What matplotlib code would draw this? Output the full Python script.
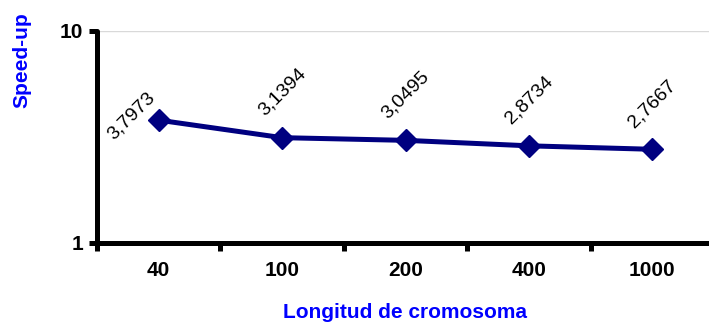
import matplotlib
matplotlib.use("Agg")
import matplotlib.pyplot as plt
from matplotlib.ticker import FixedLocator, NullLocator, FixedFormatter

categories = ["40", "100", "200", "400", "1000"]
speedup = [3.7973, 3.1394, 3.0495, 2.8734, 2.7667]
labels = ["3,7973", "3,1394", "3,0495", "2,8734", "2,7667"]
y_ticks = [1, 10]
y_ticklabels = ["1", "10"]

plt.rcParams['font.family'] = ['Liberation Sans', 'DejaVu Sans']

fig = plt.figure(figsize=(7.09, 3.24), dpi=100)
W, H = 709, 324
ax = fig.add_axes([97 / W, (H - 243) / H, 617 / W, 212 / H])

x = list(range(len(categories)))
ax.plot(x, speedup, color='#000080', lw=3.6, marker='D', ms=11,
        markerfacecolor='#000080', markeredgecolor='#000080', zorder=3,
        clip_on=False)

ax.set_yscale('log')
ax.set_ylim(1, 10)
ax.set_xlim(-0.5, len(categories) - 0.5)

ax.yaxis.set_major_locator(FixedLocator(y_ticks))
ax.yaxis.set_major_formatter(FixedFormatter(y_ticklabels))
ax.yaxis.set_minor_locator(NullLocator())

ax.set_xticks(x)
ax.set_xticklabels(categories)
ax.set_xticks([i - 0.5 for i in range(len(categories) + 1)], minor=True)

ax.tick_params(axis='x', which='major', length=0, pad=13, labelsize=15)
ax.tick_params(axis='x', which='minor', length=6, width=3.6, direction='out', color='black')
ax.tick_params(axis='y', which='major', length=6, width=3.6, direction='out', labelsize=15, pad=4)
for t in ax.get_xticklabels() + ax.get_yticklabels():
    t.set_fontweight('bold')

for s in ['top', 'right']:
    ax.spines[s].set_visible(False)
for s in ['left', 'bottom']:
    ax.spines[s].set_linewidth(3.6)
    ax.spines[s].set_color('black')
    ax.spines[s].set_capstyle('round')

ax.grid(axis='y', which='major', color='#d9d9d9', lw=1)
ax.set_axisbelow(True)

for i, (v, lab) in enumerate(zip(speedup, labels)):
    if i == 0:
        off = (-19.5, 3)
    else:
        off = (0, 33)
    ax.annotate(lab, (i, v), xytext=off, textcoords='offset points',
                ha='center', va='center', rotation=45, rotation_mode='anchor',
                fontsize=14, color='black')

fig.text(405 / W, 1 - 313 / H, 'Longitud de cromosoma', ha='center', va='center',
         fontsize=15, fontweight='bold', color='#0000ff')
fig.text(22 / W, 1 - 60 / H, 'Speed-up', ha='center', va='center', rotation=90,
         fontsize=15, fontweight='bold', color='#0000ff')

fig.savefig('out.png', dpi=100)
